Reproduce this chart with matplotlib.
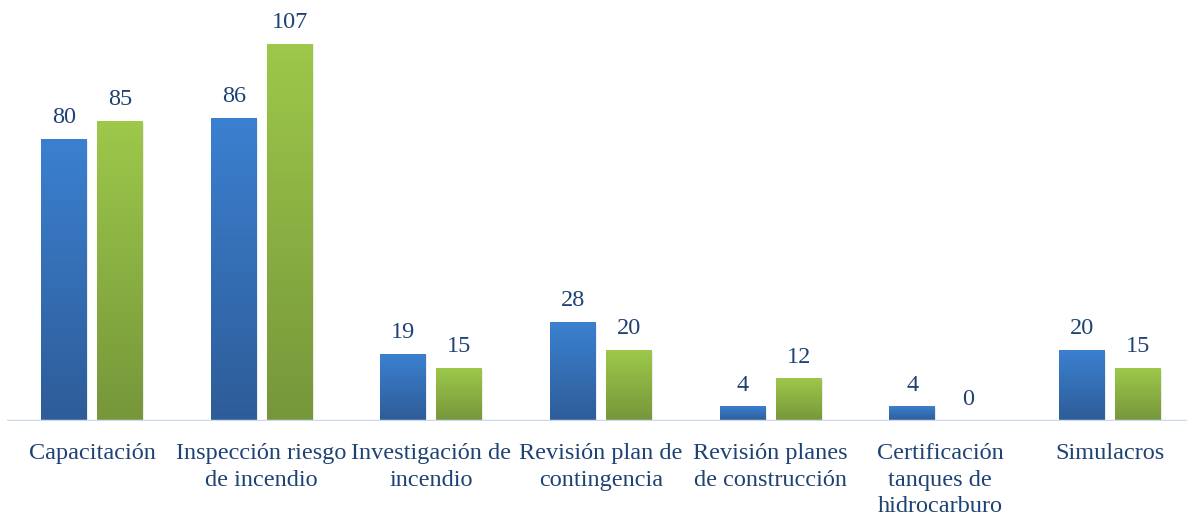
import matplotlib.pyplot as plt
import numpy as np
from matplotlib.colors import LinearSegmentedColormap

categories = ["Capacitación", "Inspección riesgo\nde incendio", "Investigación de\nincendio",
              "Revisión plan de\ncontingencia", "Revisión planes\nde construcción",
              "Certificación\ntanques de\nhidrocarburo", "Simulacros"]
serie_azul = [80, 86, 19, 28, 4, 4, 20]
serie_verde = [85, 107, 15, 20, 12, 0, 15]

plt.rcParams["font.family"] = ["Liberation Serif", "DejaVu Serif"]
txt_color = "#1f4274"

fig = plt.figure(figsize=(11.87, 5.18), dpi=100)
ax = fig.add_axes([7.2 / 1187, 1 - 421 / 518, 1187.6 / 1187, 421 / 518])

x = np.arange(len(categories))
w = 0.271
off = 0.165
cmap_blue = LinearSegmentedColormap.from_list("b", ["#2e5c98", "#3b80d0"])
cmap_green = LinearSegmentedColormap.from_list("g", ["#76963a", "#9dc84a"])
grad = np.linspace(0, 1, 256).reshape(-1, 1)

for vals, dx, cmap in [(serie_azul, -off, cmap_blue), (serie_verde, off, cmap_green)]:
    bars = ax.bar(x + dx, vals, w, color="none", zorder=2)
    for b, v in zip(bars, vals):
        x0 = b.get_x()
        if v > 0:
            # soft shadow
            ax.add_patch(plt.Rectangle((x0 + 0.006, -0.4), w, v, color="#000000", alpha=0.08, lw=0, zorder=1))
            ax.imshow(grad, cmap=cmap, origin="lower", aspect="auto",
                      extent=[x0, x0 + w, 0, v], zorder=2)
        ax.annotate(str(v), (x0 + w / 2, v), xytext=(0, 8), textcoords="offset points",
                    ha="center", va="bottom", fontsize=17.5, color=txt_color)

ax.set_xlim(-0.5, len(categories) - 0.5)
ax.set_ylim(0, 119.5)
ax.axhline(0, color="#c9d9ee", lw=2.5, zorder=3)
for s in ax.spines.values():
    s.set_visible(False)
ax.set_yticks([])
ax.set_xticks(x)
ax.set_xticklabels(categories, fontsize=17.5, color=txt_color, linespacing=1.33, va="top")
ax.tick_params(axis="x", length=0, pad=16)

plt.savefig("out.png", dpi=100)
